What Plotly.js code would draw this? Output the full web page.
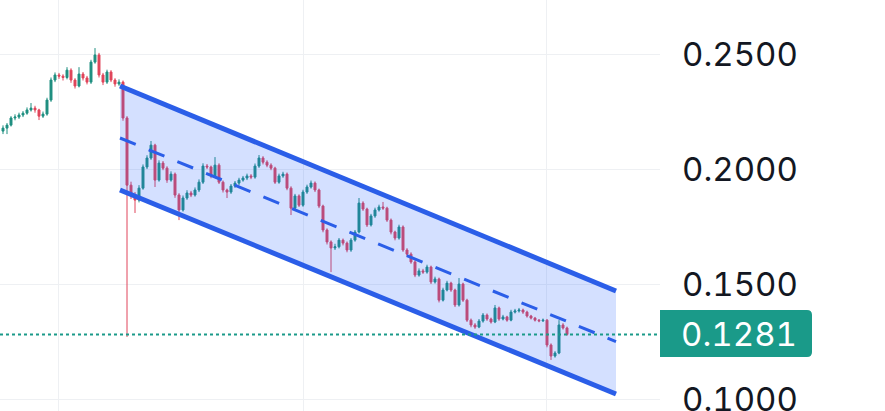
<!DOCTYPE html>
<html>
<head>
<meta charset="utf-8">
<script src="https://cdn.plot.ly/plotly-3.0.1.min.js"></script>
<style>html,body{margin:0;padding:0;background:#fff;}#chart{width:885px;height:411px;}
#chart text{font-feature-settings:"tnum" 1;font-variant-numeric:tabular-nums;}</style>
</head>
<body>
<div id="chart"></div>
<script>
const openP = [
0.2165,0.2178,0.2191,0.2222,0.2226,0.2235,0.2243,0.2257,0.2265,0.2257,
0.2230,0.2239,0.2300,0.2387,0.2409,0.2404,0.2398,0.2430,0.2387,0.2361,
0.2413,0.2396,0.2378,0.2465,0.2496,0.2409,0.2378,0.2422,0.2387,0.2370,
0.2378,0.2222,0.1930,0.1887,0.1865,0.1917,0.2009,0.2048,0.2104,0.1952,
0.2026,0.2004,0.1952,0.1978,0.1887,0.1822,0.1874,0.1896,0.1887,0.1909,
0.1943,0.2013,0.2009,0.1970,0.2017,0.1943,0.1909,0.1900,0.1926,0.1939,
0.1952,0.1961,0.1970,0.1965,0.2013,0.2048,0.2030,0.2017,0.2004,0.1943,
0.1970,0.1978,0.1917,0.1830,0.1883,0.1843,0.1900,0.1922,0.1939,0.1909,
0.1839,0.1735,0.1683,0.1657,0.1662,0.1691,0.1678,0.1648,0.1691,0.1726,
0.1852,0.1826,0.1757,0.1796,0.1822,0.1835,0.1830,0.1778,0.1726,0.1700,
0.1748,0.1648,0.1630,0.1596,0.1539,0.1557,0.1552,0.1574,0.1509,0.1522,
0.1430,0.1474,0.1504,0.1474,0.1409,0.1500,0.1430,0.1343,0.1322,0.1313,
0.1339,0.1365,0.1348,0.1335,0.1396,0.1348,0.1357,0.1343,0.1378,0.1383,
0.1387,0.1378,0.1361,0.1352,0.1343,0.1340,0.1343,0.1235,0.1187,0.1200,
0.1322,0.1309];
const highP = [
0.2190,0.2200,0.2230,0.2238,0.2245,0.2252,0.2268,0.2287,0.2275,0.2262,
0.2250,0.2310,0.2398,0.2420,0.2418,0.2412,0.2443,0.2438,0.2395,0.2443,
0.2422,0.2405,0.2475,0.2526,0.2505,0.2418,0.2432,0.2430,0.2395,0.2390,
0.2385,0.2230,0.1945,0.1900,0.1930,0.2020,0.2060,0.2122,0.2110,0.2038,
0.2035,0.2012,0.1990,0.1985,0.1895,0.1885,0.1908,0.1905,0.1920,0.1955,
0.2025,0.2022,0.2015,0.2052,0.2025,0.1950,0.1915,0.1935,0.1948,0.1962,
0.1970,0.1980,0.1978,0.2024,0.2061,0.2056,0.2038,0.2025,0.2010,0.1980,
0.1988,0.1985,0.1925,0.1892,0.1890,0.1910,0.1932,0.1950,0.1946,0.1915,
0.1845,0.1742,0.1690,0.1675,0.1700,0.1698,0.1685,0.1700,0.1735,0.1874,
0.1860,0.1832,0.1805,0.1832,0.1845,0.1857,0.1836,0.1785,0.1732,0.1758,
0.1755,0.1656,0.1638,0.1603,0.1568,0.1566,0.1584,0.1580,0.1532,0.1528,
0.1484,0.1514,0.1510,0.1480,0.1526,0.1506,0.1436,0.1350,0.1330,0.1348,
0.1374,0.1372,0.1354,0.1409,0.1402,0.1366,0.1362,0.1388,0.1392,0.1396,
0.1393,0.1384,0.1366,0.1357,0.1348,0.1350,0.1348,0.1242,0.1208,0.1343,
0.1330,0.1315];
const lowP = [
0.2152,0.2152,0.2185,0.2212,0.2218,0.2226,0.2236,0.2250,0.2245,0.2213,
0.2222,0.2232,0.2292,0.2378,0.2392,0.2385,0.2390,0.2375,0.2350,0.2355,
0.2385,0.2368,0.2370,0.2458,0.2398,0.2365,0.2370,0.2378,0.2358,0.2362,
0.2210,0.1270,0.1870,0.1809,0.1855,0.1910,0.2000,0.2040,0.1922,0.1945,
0.1995,0.1940,0.1945,0.1875,0.1778,0.1815,0.1866,0.1878,0.1880,0.1900,
0.1935,0.2000,0.1960,0.1962,0.1935,0.1898,0.1874,0.1892,0.1918,0.1930,
0.1945,0.1952,0.1956,0.1958,0.2005,0.2020,0.2008,0.1995,0.1935,0.1936,
0.1962,0.1908,0.1800,0.1822,0.1835,0.1836,0.1892,0.1915,0.1900,0.1830,
0.1725,0.1672,0.1552,0.1648,0.1655,0.1668,0.1638,0.1640,0.1684,0.1720,
0.1818,0.1748,0.1750,0.1788,0.1815,0.1822,0.1770,0.1716,0.1690,0.1693,
0.1640,0.1620,0.1588,0.1530,0.1532,0.1544,0.1545,0.1500,0.1502,0.1420,
0.1424,0.1468,0.1466,0.1400,0.1402,0.1422,0.1335,0.1312,0.1305,0.1308,
0.1332,0.1340,0.1328,0.1330,0.1340,0.1342,0.1336,0.1338,0.1372,0.1376,
0.1370,0.1354,0.1346,0.1337,0.1334,0.1335,0.1225,0.1170,0.1180,0.1195,
0.1302,0.1275];
const closeP = [
0.2178,0.2191,0.2222,0.2226,0.2235,0.2243,0.2257,0.2265,0.2257,0.2230,
0.2239,0.2300,0.2387,0.2409,0.2404,0.2398,0.2430,0.2387,0.2361,0.2413,
0.2396,0.2378,0.2465,0.2496,0.2409,0.2378,0.2422,0.2387,0.2370,0.2378,
0.2222,0.1930,0.1887,0.1865,0.1917,0.2009,0.2048,0.2104,0.1952,0.2026,
0.2004,0.1952,0.1978,0.1887,0.1822,0.1874,0.1896,0.1887,0.1909,0.1943,
0.2013,0.2009,0.1970,0.2017,0.1943,0.1909,0.1900,0.1926,0.1939,0.1952,
0.1961,0.1970,0.1965,0.2013,0.2048,0.2030,0.2017,0.2004,0.1943,0.1970,
0.1978,0.1917,0.1830,0.1883,0.1843,0.1900,0.1922,0.1939,0.1909,0.1839,
0.1735,0.1683,0.1657,0.1662,0.1691,0.1678,0.1648,0.1691,0.1726,0.1852,
0.1826,0.1757,0.1796,0.1822,0.1835,0.1830,0.1778,0.1726,0.1700,0.1748,
0.1648,0.1630,0.1596,0.1539,0.1557,0.1552,0.1574,0.1509,0.1522,0.1430,
0.1474,0.1504,0.1474,0.1409,0.1500,0.1430,0.1343,0.1322,0.1313,0.1339,
0.1365,0.1348,0.1335,0.1396,0.1348,0.1357,0.1343,0.1378,0.1383,0.1387,
0.1378,0.1361,0.1352,0.1343,0.1340,0.1343,0.1235,0.1187,0.1200,0.1322,
0.1309,0.1281];

// descending channel (bar index, price)
const channelX = [29.25, 153.25];
const channelUpper = [0.2361, 0.1470];
const channelMid = [0.2135, 0.1250];
const channelLower = [0.1909, 0.1022];

const lastPrice = 0.1281;
const lastPriceLabel = "0.1281";
const yTickVals = [0.10, 0.15, 0.20, 0.25];
const yTickText = ["0.1000", "0.1500", "0.2000", "0.2500"];
const xGridVals = [13.75, 75, 135.75];

const xIdx = closeP.map((_, i) => i);
const blue = "#2b5ee8";
const upC = "#1f8f80", downC = "#e0455a";
const teal = "#1a9a89";

// rounded price box: x in paper units, y in price units
const bx0 = 1.0, bx1 = 1.2303, by0 = 0.1183, by1 = 0.1387, rx = 0.0076, ry = 0.0022;
const boxPath = `M ${bx0},${by0} L ${bx1 - rx},${by0} Q ${bx1},${by0} ${bx1},${by0 + ry} L ${bx1},${by1 - ry} Q ${bx1},${by1} ${bx1 - rx},${by1} L ${bx0},${by1} Z`;

const traces = [
  {x: channelX, y: channelLower, type: "scatter", mode: "lines", line: {width: 0}, hoverinfo: "skip", showlegend: false},
  {x: channelX, y: channelUpper, type: "scatter", mode: "lines", line: {width: 0}, fill: "tonexty", fillcolor: "rgba(41,98,255,0.2)", hoverinfo: "skip", showlegend: false},
  {x: xIdx, open: openP, high: highP, low: lowP, close: closeP, type: "candlestick",
   increasing: {line: {color: upC, width: 1}, fillcolor: upC},
   decreasing: {line: {color: downC, width: 1}, fillcolor: downC},
   whiskerwidth: 0, showlegend: false},
  {x: channelX, y: channelUpper, type: "scatter", mode: "lines", line: {color: blue, width: 5}, showlegend: false},
  {x: channelX, y: channelLower, type: "scatter", mode: "lines", line: {color: blue, width: 5}, showlegend: false},
  {x: channelX, y: channelMid, type: "scatter", mode: "lines", line: {color: blue, width: 3, dash: "17px,14px"}, showlegend: false}
];

const layout = {
  width: 885, height: 411,
  margin: {l: 0, r: 225, t: 0, b: 0},
  paper_bgcolor: "#ffffff", plot_bgcolor: "#ffffff",
  showlegend: false,
  xaxis: {range: [-0.75, 164.25], showticklabels: false, tickvals: xGridVals, showgrid: true, gridcolor: "#eef0f3", gridwidth: 1, zeroline: false, showline: false, ticks: "", rangeslider: {visible: false}, fixedrange: true},
  yaxis: {range: [0.0948, 0.2735], side: "right", tickvals: yTickVals, ticktext: yTickText, showgrid: true, gridcolor: "#eef0f3", gridwidth: 1, zeroline: false, showline: false, ticks: "", ticklabelstandoff: 21, ticklabeloverflow: "allow",
          tickfont: {family: "Inter, Roboto, sans-serif", size: 33, color: "#131722"}, fixedrange: true},
  shapes: [
    {type: "line", xref: "paper", yref: "y", x0: 0, x1: 1, y0: lastPrice, y1: lastPrice, line: {color: teal, width: 2, dash: "dot"}},
    {type: "path", xref: "paper", yref: "y", path: boxPath, fillcolor: teal, line: {width: 0}, layer: "above"}
  ],
  annotations: [
    {xref: "paper", yref: "y", x: 1.046, y: lastPrice, xanchor: "left", yanchor: "middle", text: lastPriceLabel, showarrow: false,
     font: {family: "Inter, Roboto, sans-serif", size: 33, color: "#ffffff"}}
  ]
};

Plotly.newPlot("chart", traces, layout, {displayModeBar: false, staticPlot: true});
</script>
</body>
</html>
